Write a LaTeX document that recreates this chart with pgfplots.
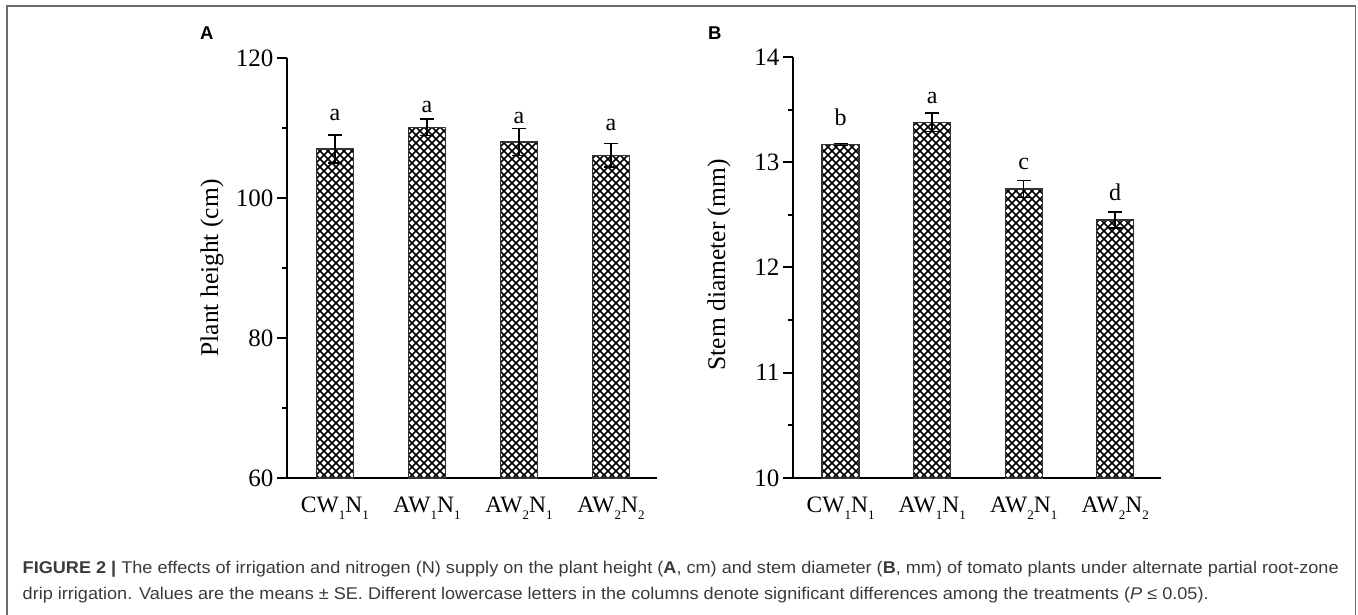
\documentclass[border=0pt]{standalone}
\usepackage{pgfplots}
\pgfplotsset{compat=1.18}
\usepackage{fontspec}
\setmainfont{Liberation Serif}
\newfontfamily\capfont[FakeStretch=1.065]{Liberation Sans}
\newfontfamily\labfont{Liberation Sans}
\usetikzlibrary{patterns}

\pgfdeclarepatternformonly{bigcross}{\pgfqpoint{-1pt}{-1pt}}{\pgfqpoint{9pt}{9pt}}{\pgfqpoint{8pt}{8pt}}{%
  \pgfsetlinewidth{1.5pt}%
  \pgfpathmoveto{\pgfqpoint{0pt}{0pt}}\pgfpathlineto{\pgfqpoint{8pt}{8pt}}%
  \pgfpathmoveto{\pgfqpoint{0pt}{8pt}}\pgfpathlineto{\pgfqpoint{8pt}{0pt}}%
  \pgfusepath{stroke}}

\definecolor{capgray}{HTML}{3A3A3A}
\definecolor{framegray}{HTML}{6A6A6A}

\newcommand\sub[1]{\raisebox{-0.3em}{\fontsize{13pt}{13pt}\selectfont #1}}

% data: x, mean, se
\pgfplotstableread{
x  y     e
0  107.0 2.0
1  110.1 1.2
2  108.0 1.9
3  106.1 1.7
}\heightdata
\pgfplotstableread{
x  y     e
0  13.17 0.01
1  13.38 0.09
2  12.745 0.08
3  12.45 0.075
}\stemdata

\pgfplotsset{
  mybar/.style={
    scale only axis,
    axis x line=bottom, axis y line=left,
    axis line style={-, line width=2.2pt},
    xmin=-0.52, xmax=3.5,
    xtick={0,1,2,3},
    xticklabels={CW\sub{1}N\sub{1}, AW\sub{1}N\sub{1}, AW\sub{2}N\sub{1}, AW\sub{2}N\sub{2}},
    x tick style={draw=none},
    tick align=outside,
    major tick length=10pt, minor tick length=5pt,
    y tick style={line width=2pt, black},
    minor y tick num=1,
    /pgf/number format/assume math mode=true,
    tick label style={font=\fontsize{25pt}{25pt}\selectfont},
    xticklabel style={font=\fontsize{23.5pt}{23.5pt}\selectfont, yshift=-5pt},
    ybar, bar width=37pt, bar shift=0pt,
    clip=false,
  },
  mybarplot/.style={
    draw=black!80, line width=1.3pt, pattern=bigcross, pattern color=black,
    error bars/.cd, y dir=both, y explicit,
    error bar style={line width=1.5pt, black},
    error mark options={rotate=90, mark size=7pt, line width=1.5pt, black},
  },
}

\begin{document}
\begin{tikzpicture}[x=1pt,y=1pt]
\useasboundingbox (0,0) rectangle (1358,615);
% frame
\draw[framegray, line width=1.6pt] (7,0) -- (7,609) -- (1355.5,609) -- (1355.5,0);

% panel labels
\node[anchor=base west, inner sep=0pt, font=\labfont\bfseries\fontsize{18.5pt}{18.5pt}\selectfont] at (200,575) {A};
\node[anchor=base west, inner sep=0pt, font=\labfont\bfseries\fontsize{18.5pt}{18.5pt}\selectfont] at (708,575) {B};

% Panel A
\begin{axis}[mybar,
  at={(287pt,137pt)}, anchor=south west,
  width=370pt, height=420pt,
  ymin=60, ymax=120, ytick={60,80,100,120},
]
\addplot[mybarplot] table[x=x, y=y, y error=e] {\heightdata};
\node[anchor=base, font=\fontsize{24pt}{24pt}\selectfont] at (axis cs:0,111.1) {a};
\node[anchor=base, font=\fontsize{24pt}{24pt}\selectfont] at (axis cs:1,112.2) {a};
\node[anchor=base, font=\fontsize{24pt}{24pt}\selectfont] at (axis cs:2,110.7) {a};
\node[anchor=base, font=\fontsize{24pt}{24pt}\selectfont] at (axis cs:3,109.7) {a};
\end{axis}
\node[rotate=90, font=\fontsize{25.5pt}{25.5pt}\selectfont] at (212,347) {Plant height (cm)};

% Panel B
\begin{axis}[mybar,
  at={(793pt,137pt)}, anchor=south west,
  width=368pt, height=421pt,
  ymin=10, ymax=14, ytick={10,11,12,13,14},
]
\addplot[mybarplot] table[x=x, y=y, y error=e] {\stemdata};
\node[anchor=base, font=\fontsize{24pt}{24pt}\selectfont] at (axis cs:0,13.35) {b};
\node[anchor=base, font=\fontsize{24pt}{24pt}\selectfont] at (axis cs:1,13.56) {a};
\node[anchor=base, font=\fontsize{24pt}{24pt}\selectfont] at (axis cs:2,12.93) {c};
\node[anchor=base, font=\fontsize{24pt}{24pt}\selectfont] at (axis cs:3,12.64) {d};
\end{axis}
\node[rotate=90, font=\fontsize{25.5pt}{25.5pt}\selectfont] at (719,350) {Stem diameter (mm)};

% caption
\node[anchor=base west, inner sep=0pt, text=capgray, font=\capfont\fontsize{17pt}{17pt}\selectfont] at (22.5,41.7)
 {\textbf{FIGURE 2 |} The effects of irrigation and nitrogen (N) supply on the plant height (\textbf{A}, cm) and stem diameter (\textbf{B}, mm) of tomato plants under alternate partial root-zone};
\node[anchor=base west, inner sep=0pt, text=capgray, font=\capfont\fontsize{17pt}{17pt}\selectfont] at (22.5,15.8)
 {drip irrigation. Values are the means ± SE. Different lowercase letters in the columns denote significant differences among the treatments (\textit{P} ≤ 0.05).};
\end{tikzpicture}
\end{document}
